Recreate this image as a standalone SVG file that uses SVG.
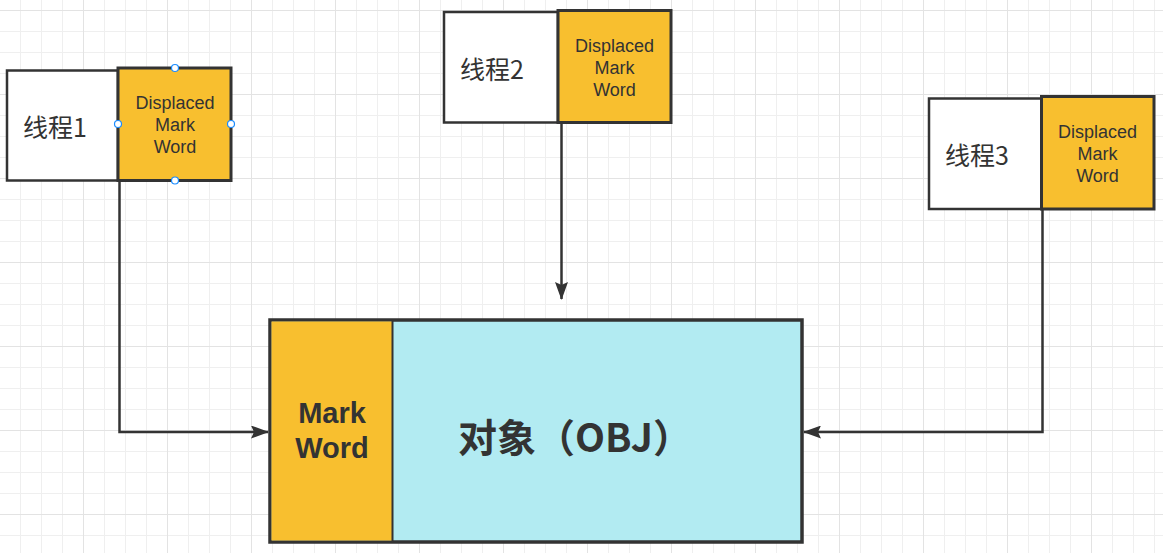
<svg xmlns="http://www.w3.org/2000/svg" width="1163" height="553" viewBox="0 0 1163 553">
  <defs>
    <pattern id="grid" patternUnits="userSpaceOnUse" x="-1" y="10" width="84" height="84">
      <path d="M21.5 0V84M42.5 0V84M63.5 0V84M0 21.5H84M0 42.5H84M0 63.5H84" stroke="#efefef" stroke-width="1" fill="none"/>
      <path d="M0.5 0V84M0 0.5H84" stroke="#e3e3e3" stroke-width="1" fill="none"/>
    </pattern>
    <marker id="arrow" viewBox="0 0 18 13" refX="17" refY="6.5" markerWidth="18" markerHeight="13" markerUnits="userSpaceOnUse" orient="auto">
      <path d="M0 0L18 6.5L0 13L3 6.5Z" fill="#333"/>
    </marker>
    <style>
      .txt { font-family: "Noto Sans CJK SC", "Open Sans", sans-serif; fill: #333; }
      .lat { font-family: "Liberation Sans", Arial, sans-serif; fill: #333; }
      .small { font-size: 18px; text-anchor: middle; }
      .thread { font-size: 25px; }
      .white { fill: #ffffff; stroke: #333; stroke-width: 2.5; }
      .orange { fill: #f8bf2f; stroke: #333; stroke-width: 3; }
      .conn { fill: none; stroke: #333; stroke-width: 2.5; marker-end: url(#arrow); }
      .handle { fill: #fff; stroke: #1a8cff; stroke-width: 1.2; }
      .bold { font-weight: bold; text-anchor: middle; }
    </style>
  </defs>
  <rect width="1163" height="553" fill="#ffffff"/>
  <rect width="1163" height="553" fill="url(#grid)"/>

  <g id="connectors">
    <path class="conn" d="M119.5 181V432H268"/>
    <path class="conn" d="M561.5 122V299"/>
    <path class="conn" d="M1042.5 209V432H804"/>
  </g>

  <g id="thread1">
    <rect class="white" x="7" y="70.5" width="111" height="110"/>
    <rect class="orange" x="118" y="68" width="113" height="112.5"/>
    <text class="txt thread" x="23" y="137">线程1</text>
    <text class="lat small" x="175" y="108.5">Displaced</text>
    <text class="lat small" x="175" y="130.5">Mark</text>
    <text class="lat small" x="175" y="152.5">Word</text>
    <circle class="handle" cx="175" cy="68" r="3.5"/>
    <circle class="handle" cx="118" cy="124" r="3.5"/>
    <circle class="handle" cx="231" cy="124" r="3.5"/>
    <circle class="handle" cx="175" cy="180.5" r="3.5"/>
  </g>

  <g id="thread2">
    <rect class="white" x="444" y="12" width="114" height="110.5"/>
    <rect class="orange" x="558" y="10.5" width="113" height="112"/>
    <text class="txt thread" x="460" y="79">线程2</text>
    <text class="lat small" x="614.5" y="51.5">Displaced</text>
    <text class="lat small" x="614.5" y="73.5">Mark</text>
    <text class="lat small" x="614.5" y="95.5">Word</text>
  </g>

  <g id="thread3">
    <rect class="white" x="929" y="98.5" width="112.5" height="110.5"/>
    <rect class="orange" x="1041.5" y="96.5" width="112.5" height="112.5"/>
    <text class="txt thread" x="945" y="165">线程3</text>
    <text class="lat small" x="1097.5" y="137.5">Displaced</text>
    <text class="lat small" x="1097.5" y="159.5">Mark</text>
    <text class="lat small" x="1097.5" y="181.5">Word</text>
  </g>

  <g id="object">
    <rect x="270" y="320" width="532" height="222" fill="#b2ebf2" stroke="#333" stroke-width="3.5"/>
    <rect x="271.5" y="321.5" width="121.5" height="219" fill="#f8bf2f" stroke="none"/>
    <line x1="392.5" y1="320" x2="392.5" y2="542" stroke="#333" stroke-width="2"/>
    <text class="lat bold" x="332" y="423" font-size="29">Mark</text>
    <text class="lat bold" x="332" y="458" font-size="29">Word</text>
    <text class="txt bold" x="575" y="452" font-size="39">对象（OBJ）</text>
  </g>
</svg>
